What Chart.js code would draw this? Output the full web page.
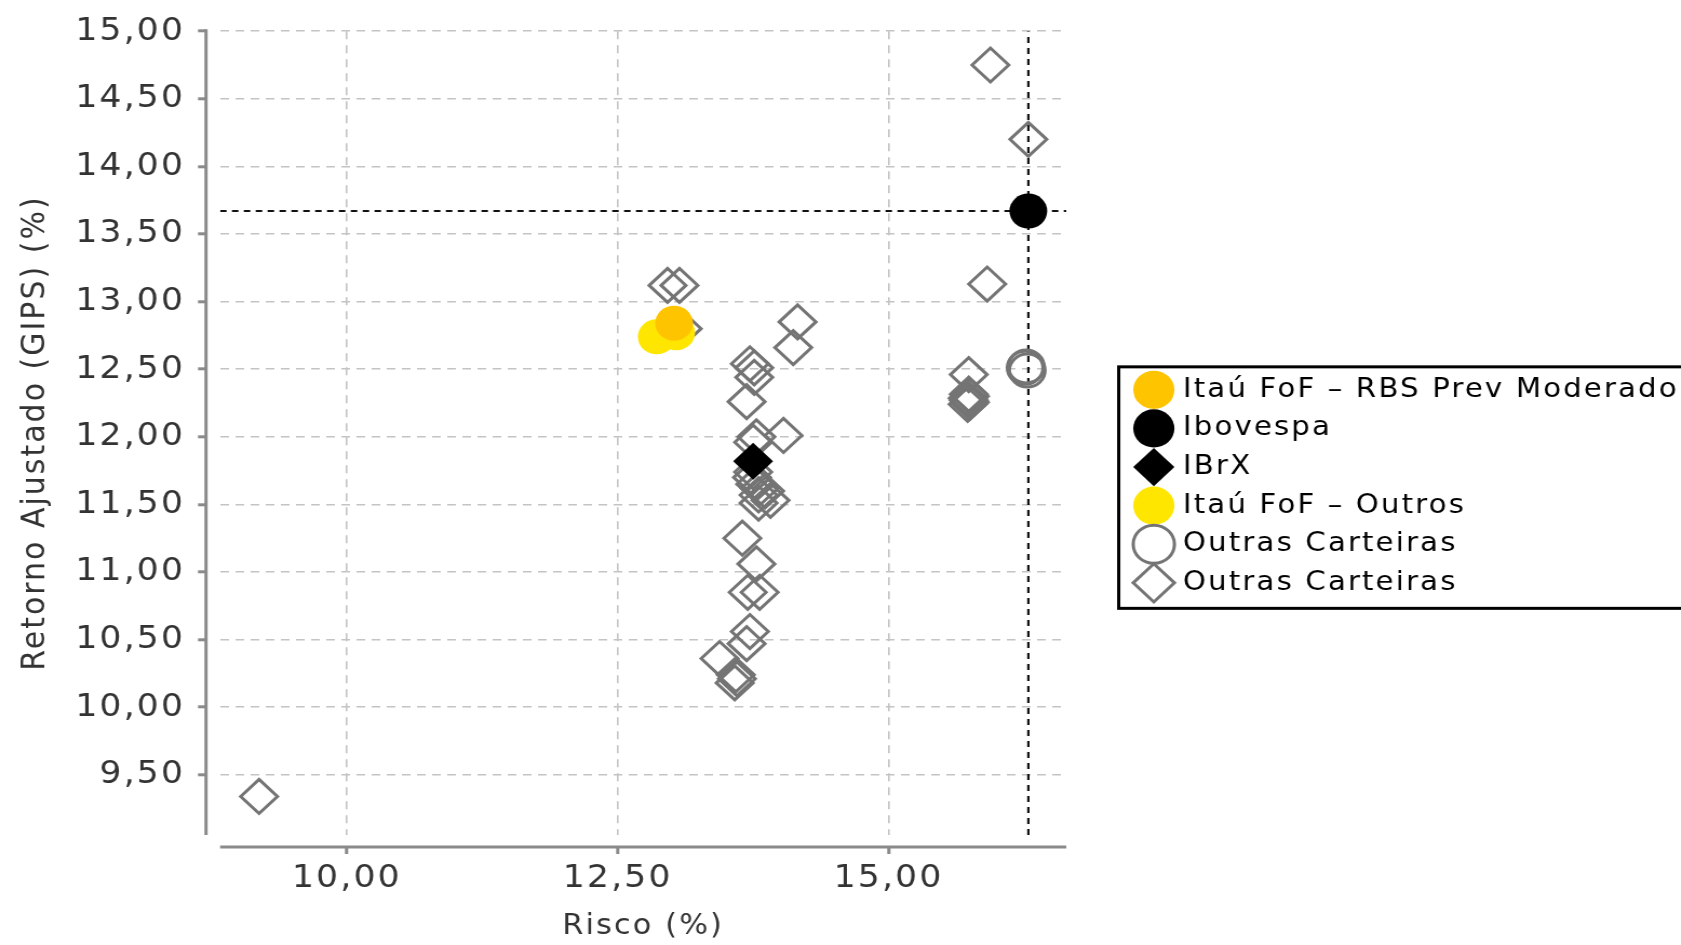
<!DOCTYPE html>
<html><head><meta charset="utf-8">
<script src="https://cdn.jsdelivr.net/npm/chart.js@4.4.1/dist/chart.umd.min.js"></script>
<style>
html,body{margin:0;padding:0;background:#fff;overflow:hidden;width:1681px;height:945px}
#wrap{position:absolute;left:0;top:0;width:1556px;height:945px;transform:scaleX(1.0803);transform-origin:0 0}
canvas{display:block}
</style></head><body>
<div id="wrap"><canvas id="c" width="1556" height="945"></canvas></div>
<script>
// ---- data ----
const seriesLabels = ['Itaú FoF – RBS Prev Moderado', 'Ibovespa', 'IBrX', 'Itaú FoF – Outros', 'Outras Carteiras', 'Outras Carteiras'];
const xTitle = 'Risco (%)';
const yTitle = 'Retorno Ajustado (GIPS) (%)';
const xTicks = [10, 12.5, 15];
const yTicks = [9.5, 10, 10.5, 11, 11.5, 12, 12.5, 13, 13.5, 14, 14.5, 15];
const xRange = [8.83, 16.64];
const yRange = [9.055, 15];

const rbsRisco = [13.02];
const rbsRetorno = [12.84];
const iboRisco = [16.29];
const iboRetorno = [13.67];
const ibrxRisco = [13.75];
const ibrxRetorno = [11.82];
const outrosRisco = [12.86, 13.04];
const outrosRetorno = [12.74, 12.77];
const circRisco = [16.26, 16.28, 16.27];
const circRetorno = [12.51, 12.49, 12.52];
const diaRisco = [9.19, 15.94, 16.29, 15.91, 15.74, 15.74, 15.75, 15.73, 15.74, 15.75, 15.73,
  12.96, 13.07, 13.10, 14.16, 14.12, 13.72, 13.76, 13.76, 13.69, 14.03,
  13.78, 13.75, 13.74, 13.75, 13.77, 13.81, 13.86, 13.80, 13.91, 13.80,
  13.65, 13.78, 13.70, 13.81, 13.72, 13.69, 13.44, 13.59, 13.60, 13.58];
const diaRetorno = [9.34, 14.75, 14.20, 13.13, 12.46, 12.315, 12.30, 12.285, 12.27, 12.255, 12.24,
  13.12, 13.12, 12.80, 12.85, 12.66, 12.54, 12.51, 12.44, 12.26, 12.01,
  12.00, 11.96, 11.70, 11.74, 11.65, 11.62, 11.60, 11.57, 11.53, 11.51,
  11.25, 11.06, 10.85, 10.85, 10.56, 10.47, 10.36, 10.24, 10.21, 10.18];
// reference (Ibovespa) lines
const refRisco = [16.29];
const refRetorno = [13.67];

// ---- styling ----
const FONT = "'DejaVu Sans', sans-serif";
const SPACING = '2px';
const GRAY = '#747474';
const zip = (xs, ys) => xs.map((x, i) => ({x: x, y: ys[i]}));
const fmt = v => Number(v).toFixed(2).replace('.', ',');

const spacingPlugin = {
  id: 'spacing',
  beforeUpdate(c) { c.ctx.letterSpacing = SPACING; },
  beforeDraw(c) { c.ctx.letterSpacing = SPACING; }
};
const axesLines = {
  id: 'axesLines',
  beforeDatasetsDraw(c) {
    const a = c.chartArea, ctx = c.ctx;
    ctx.save();
    ctx.strokeStyle = '#8a8a8a';
    ctx.lineWidth = 3;
    ctx.setLineDash([]);
    ctx.beginPath();
    ctx.moveTo(a.left - 13, a.top - 2);
    ctx.lineTo(a.left - 13, a.bottom);
    ctx.moveTo(a.left, a.bottom + 12);
    ctx.lineTo(a.right, a.bottom + 12);
    ctx.stroke();
    ctx.restore();
  }
};
const legendBox = {
  id: 'legendBox',
  afterDraw(c) {
    const hb = c.legend && c.legend.legendHitBoxes;
    if (!hb || !hb.length) return;
    const first = hb[0], last = hb[hb.length - 1];
    const ctx = c.ctx;
    ctx.save();
    ctx.strokeStyle = '#000';
    ctx.lineWidth = 3;
    ctx.setLineDash([]);
    const l = first.left - 19, t = first.top - 9.5, b = last.top + last.height + 12;
    ctx.strokeRect(l, t, c.width + 30 - l, b - t);
    ctx.restore();
  }
};

const pointDs = (label, xs, ys, style, radius, bg, border, bw) => ({
  label: label, data: zip(xs, ys), pointStyle: style, radius: radius, pointRadius: radius,
  backgroundColor: bg, borderColor: border, borderWidth: bw, pointBorderWidth: bw,
  pointBackgroundColor: bg, pointBorderColor: border, showLine: false
});

const datasets = [
  pointDs(seriesLabels[0], rbsRisco, rbsRetorno, 'circle', 17.5, '#FFC400', '#FFC400', 0),
  pointDs(seriesLabels[1], iboRisco, iboRetorno, 'circle', 17.5, '#000000', '#000000', 0),
  pointDs(seriesLabels[2], ibrxRisco, ibrxRetorno, 'rectRot', 18.5, '#000000', '#000000', 0),
  pointDs(seriesLabels[3], outrosRisco, outrosRetorno, 'circle', 17.5, '#FFE600', '#FFE600', 0),
  pointDs(seriesLabels[4], circRisco, circRetorno, 'circle', 16.5, 'rgba(0,0,0,0)', GRAY, 3),
  pointDs(seriesLabels[5], diaRisco, diaRetorno, 'rectRot', 17, 'rgba(0,0,0,0)', GRAY, 3),
  { type: 'line', label: 'refH', data: [{x: xRange[0], y: refRetorno[0]}, {x: xRange[1], y: refRetorno[0]}],
    borderColor: '#111', borderWidth: 2.2, borderDash: [6, 5], pointRadius: 0, fill: false, showLine: true, order: 10 },
  { type: 'line', label: 'refV', data: [{x: refRisco[0], y: yRange[0]}, {x: refRisco[0], y: yRange[1]}],
    borderColor: '#111', borderWidth: 2.2, borderDash: [6, 5], pointRadius: 0, fill: false, showLine: true, order: 10 }
];

const tickFont = {family: FONT, size: 32};
new Chart(document.getElementById('c'), {
  type: 'scatter',
  data: {datasets: datasets},
  plugins: [spacingPlugin, axesLines, legendBox],
  options: {
    responsive: false,
    devicePixelRatio: 1,
    animation: false,
    events: [],
    layout: {padding: {top: 27.7, left: 0, bottom: 0, right: -8}},
    plugins: {
      tooltip: {enabled: false},
      legend: {
        position: 'right',
        align: 'center',
        maxWidth: 700,
        labels: {
          usePointStyle: true,
          color: '#000',
          font: {family: FONT, size: 27},
          padding: 11.6,
          filter: item => item.datasetIndex < 6
        }
      }
    },
    scales: {
      x: {
        type: 'linear', position: 'bottom', min: xRange[0], max: xRange[1],
        afterBuildTicks: s => { s.ticks = xTicks.map(v => ({value: v})); },
        afterFit: s => { s.height = 110; },
        border: {display: false, dash: [8, 6]},
        grid: {color: '#c4c4c4', lineWidth: 1.6, drawTicks: true, tickLength: 19,
               tickColor: '#8a8a8a', tickWidth: 3, tickBorderDash: [0, 12, 7, 100]},
        ticks: {color: '#333', font: tickFont, padding: 5, maxRotation: 0, callback: v => fmt(v)},
        title: {display: true, text: xTitle, color: '#333', font: {family: FONT, size: 28}, padding: {top: 0, bottom: 1}}
      },
      y: {
        type: 'linear', position: 'left', min: yRange[0], max: yRange[1],
        afterBuildTicks: s => { s.ticks = yTicks.map(v => ({value: v})); },
        afterFit: s => { s.width = 203.7; },
        border: {display: false, dash: [8, 6]},
        grid: {color: '#c4c4c4', lineWidth: 1.6, drawTicks: true, tickLength: 20.4,
               tickColor: '#8a8a8a', tickWidth: 3, tickBorderDash: [7.4, 100]},
        ticks: {color: '#333', font: tickFont, padding: 12, callback: v => fmt(v)},
        title: {display: true, text: yTitle, color: '#333', font: {family: FONT, size: 30}, padding: {top: 15, bottom: 0}}
      },
      gap: {
        type: 'linear', position: 'right', display: true,
        grid: {display: false, drawTicks: false}, border: {display: false}, ticks: {display: false},
        afterFit: s => { const lg = s.chart.legend; s.width = Math.max(0, s.chart.width + 8 - (lg ? lg.width : 0) - 987); }
      }
    }
  }
});
</script>
</body></html>
